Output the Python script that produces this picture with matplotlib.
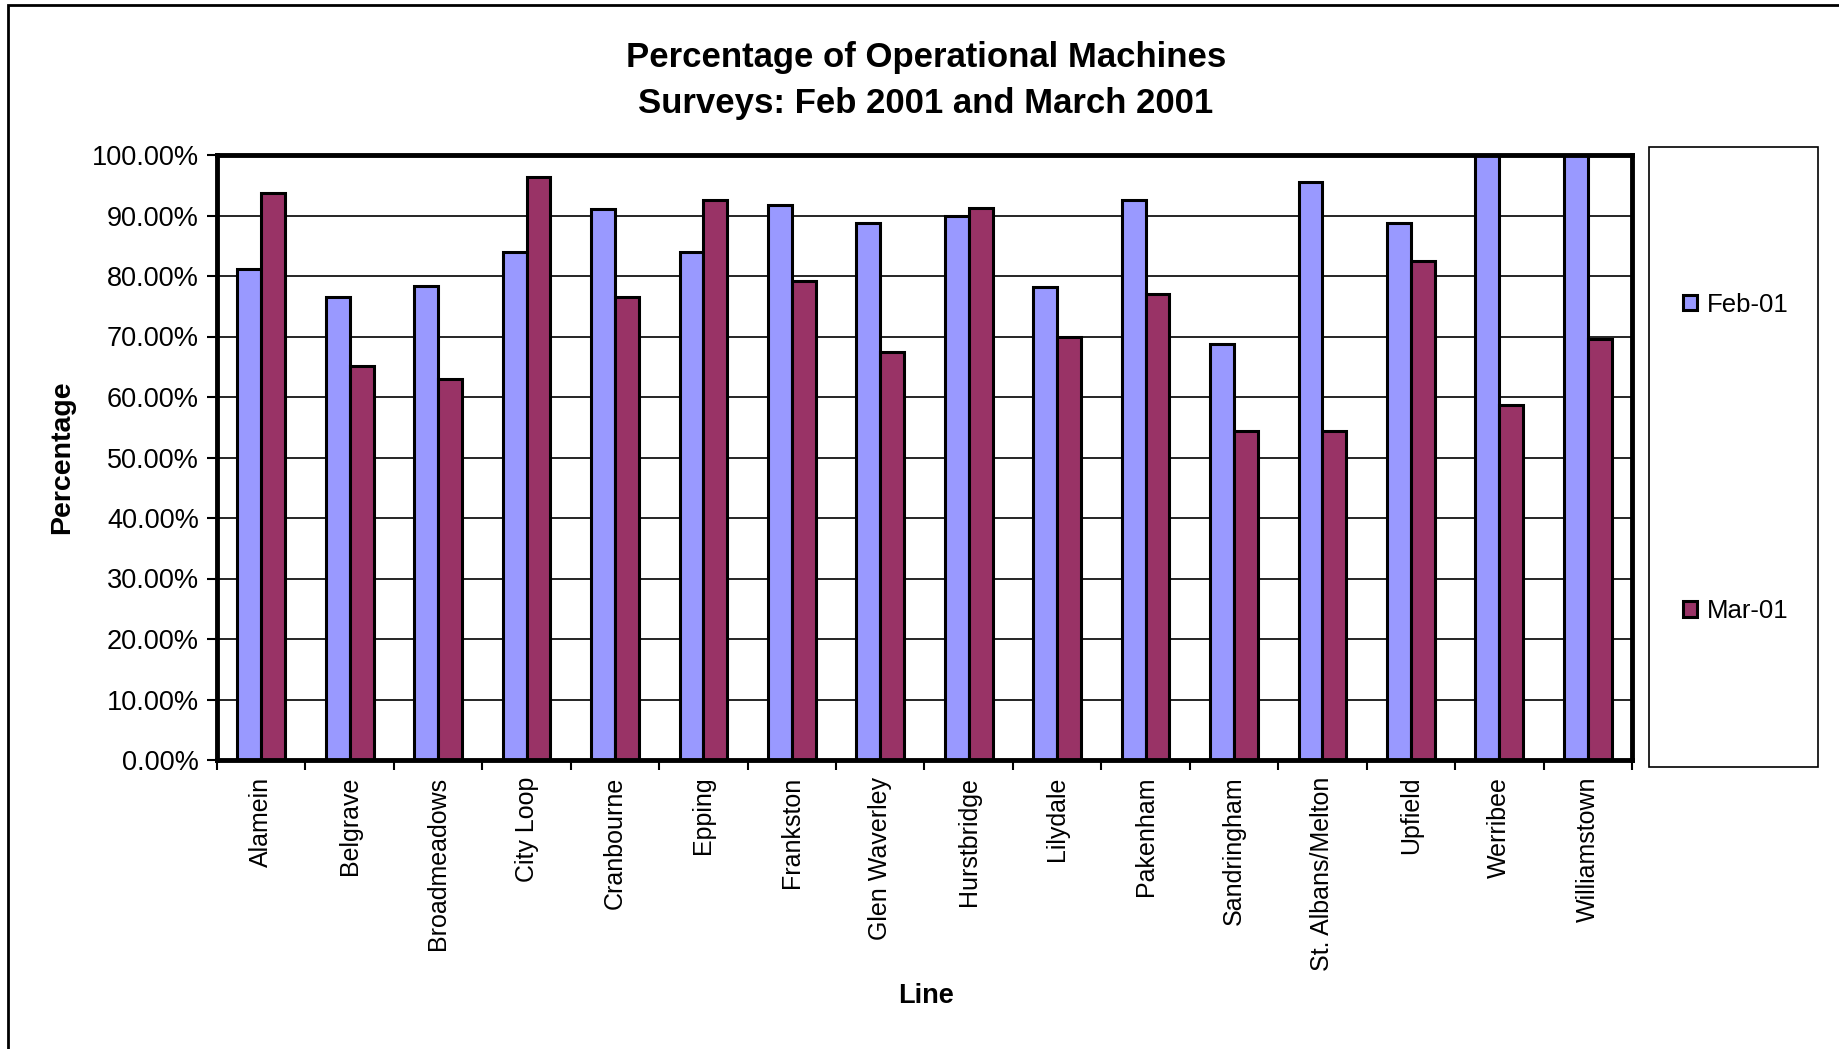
import numpy as np
import matplotlib
matplotlib.use("Agg")
import matplotlib.pyplot as plt
from matplotlib.patches import Rectangle
from matplotlib.ticker import FuncFormatter, MultipleLocator

lines = ["Alamein", "Belgrave", "Broadmeadows", "City Loop", "Cranbourne",
         "Epping", "Frankston", "Glen Waverley", "Hurstbridge", "Lilydale",
         "Pakenham", "Sandringham", "St. Albans/Melton", "Upfield",
         "Werribee", "Williamstown"]
feb_01 = [81.1, 76.5, 78.4, 84.0, 91.0, 84.0, 91.7, 88.7, 90.0, 78.1,
          92.6, 68.8, 95.6, 88.7, 100.0, 100.0]
mar_01 = [93.7, 65.2, 62.9, 96.3, 76.5, 92.6, 79.1, 67.5, 91.2, 69.9,
          77.0, 54.3, 54.3, 82.4, 58.6, 69.6]
series_names = ["Feb-01", "Mar-01"]
colors = ["#9999FF", "#993366"]

plt.rcParams['font.family'] = ['Liberation Sans', 'DejaVu Sans']

W, H = 1840, 1049
fig = plt.figure(figsize=(W / 100, H / 100), dpi=100)
ax = fig.add_axes([217 / W, 1 - 760 / H, 1415 / W, 605 / H])

x = np.arange(len(lines))
bw = 0.27
ax.bar(x - bw / 2, feb_01, bw, color=colors[0], edgecolor="black",
       linewidth=2.2, label=series_names[0], zorder=3)
ax.bar(x + bw / 2, mar_01, bw, color=colors[1], edgecolor="black",
       linewidth=2.2, label=series_names[1], zorder=3)

ax.set_xlim(-0.5, len(lines) - 0.5)
ax.set_ylim(0, 100)
ax.yaxis.set_major_locator(MultipleLocator(10))
ax.yaxis.set_major_formatter(FuncFormatter(lambda v, p: f"{v:.2f}%"))
ax.yaxis.grid(True, color="black", linewidth=1.2, zorder=0)

# x ticks at category boundaries, labels at centres
ax.set_xticks(np.arange(len(lines) + 1) - 0.5)
ax.set_xticklabels([])
ax.set_xticks(x, minor=True)
ax.set_xticklabels(lines, minor=True, rotation=90, fontsize=18, va="top")
ax.tick_params(axis="x", which="minor", length=0, pad=12)
ax.tick_params(axis="x", which="major", length=7, width=1.5, direction="out")
ax.tick_params(axis="y", length=7, width=1.5, labelsize=19.5, pad=6)

for s in ax.spines.values():
    s.set_linewidth(3.5)
    s.set_zorder(4)

ax.set_ylabel("Percentage", fontsize=20.5, fontweight="bold", labelpad=12)
fig.text(926 / W, 1 - 996 / H, "Line", fontsize=19.5, fontweight="bold",
         ha="center", va="center")

fig.text(926 / W, 1 - 57 / H, "Percentage of Operational Machines",
         fontsize=25, fontweight="bold", ha="center", va="center")
fig.text(926 / W, 1 - 103 / H, "Surveys: Feb 2001 and March 2001",
         fontsize=25, fontweight="bold", ha="center", va="center")

# legend box
fig.patches.append(Rectangle((1649 / W, 1 - 767 / H), 169 / W, 620 / H,
                             transform=fig.transFigure, facecolor="none",
                             edgecolor="black", linewidth=1.2))
ax.legend(loc="center left", bbox_to_anchor=(1670 / W, 1 - 458 / H),
          bbox_transform=fig.transFigure, frameon=False, fontsize=18.5,
          labelspacing=11.0, handlelength=0.55, handleheight=0.55,
          handletextpad=0.4, borderpad=0)

# outer chart border
fig.patches.append(Rectangle((8 / W, -0.05), 1.1, 1 - 5 / H + 0.05,
                             transform=fig.transFigure, facecolor="none",
                             edgecolor="black", linewidth=2))

fig.savefig("out.png", dpi=100)
